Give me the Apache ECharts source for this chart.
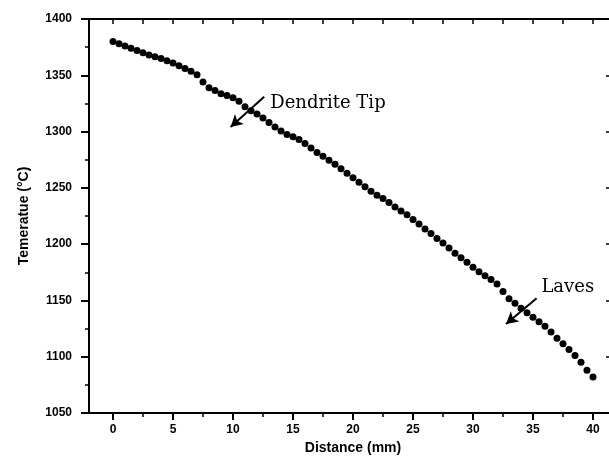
<!DOCTYPE html>
<html>
<head>
<meta charset="utf-8">
<script src="https://cdn.jsdelivr.net/npm/echarts@6/dist/echarts.min.js"></script>
<style>
  html, body { margin: 0; padding: 0; background: #fff; }
  #main { width: 609px; height: 466px; }
</style>
</head>
<body>
<div id="main"></div>
<script>
// distance along the sample (mm)
var distance = [
  0, 0.5, 1, 1.5, 2, 2.5, 3, 3.5, 4, 4.5,
  5, 5.5, 6, 6.5, 7, 7.5, 8, 8.5, 9, 9.5,
  10, 10.5, 11, 11.5, 12, 12.5, 13, 13.5, 14, 14.5,
  15, 15.5, 16, 16.5, 17, 17.5, 18, 18.5, 19, 19.5,
  20, 20.5, 21, 21.5, 22, 22.5, 23, 23.5, 24, 24.5,
  25, 25.5, 26, 26.5, 27, 27.5, 28, 28.5, 29, 29.5,
  30, 30.5, 31, 31.5, 32, 32.5, 33, 33.5, 34, 34.5,
  35, 35.5, 36, 36.5, 37, 37.5, 38, 38.5, 39, 39.5,
  40
];
// temperature
var temperature = [
  1380, 1378, 1376, 1374, 1372, 1370, 1368, 1366.5, 1365, 1363,
  1361, 1358.5, 1356, 1353.5, 1350.5, 1344, 1339, 1336.5, 1333.5, 1332,
  1330, 1327, 1322, 1318.5, 1315.5, 1312, 1308, 1304, 1300.5, 1297.5,
  1295.5, 1293, 1289.5, 1285.5, 1281.5, 1278, 1274.5, 1271, 1267, 1263,
  1259, 1255, 1251, 1247, 1243.5, 1240.5, 1237, 1233, 1229.5, 1226,
  1222, 1218, 1213.5, 1209.5, 1205, 1201, 1196.5, 1192, 1188, 1184,
  1179.5, 1175.5, 1172, 1168.5, 1164.5, 1158, 1151.5, 1147.5, 1143, 1139,
  1135, 1131, 1127, 1122, 1116.5, 1111.5, 1106.5, 1101, 1095, 1088,
  1082
];
var xMajor = [0, 5, 10, 15, 20, 25, 30, 35, 40];
var xMinor = [2.5, 7.5, 12.5, 17.5, 22.5, 27.5, 32.5, 37.5];
var xTopTicks = [0, 2.5, 5, 7.5, 10, 12.5, 15, 17.5, 20, 22.5, 25, 27.5, 30, 32.5, 35, 37.5, 40];

var points = distance.map(function (d, i) { return [d, temperature[i]]; });

var myChart = echarts.init(document.getElementById('main'));
var font = 'Liberation Sans, Arial, sans-serif';
var axisLine = { show: true, onZero: false, lineStyle: { color: '#000', width: 2 } };
var xRange = { min: -2, max: 42 };

var option = {
  animation: false,
  backgroundColor: '#fff',
  grid: { left: 89, top: 19, right: -8, bottom: 53, outerBoundsMode: 'none' },
  xAxis: [
    {
      type: 'value', position: 'bottom', min: xRange.min, max: xRange.max,
      name: 'Distance (mm)', nameLocation: 'middle', nameGap: 24,
      nameTextStyle: { fontFamily: font, fontWeight: 'bold', fontSize: 14, color: '#000' },
      axisLine: axisLine,
      axisTick: { show: true, inside: false, length: 7, customValues: xMajor, lineStyle: { color: '#000', width: 2 } },
      axisLabel: { show: true, customValues: xMajor, margin: 11, fontFamily: font, fontWeight: 'bold', fontSize: 12, color: '#000' },
      splitLine: { show: false }
    },
    {
      type: 'value', position: 'bottom', min: xRange.min, max: xRange.max,
      axisLine: { show: false, onZero: false },
      axisTick: { show: true, inside: false, length: 4, customValues: xMinor, lineStyle: { color: '#000', width: 1.5 } },
      axisLabel: { show: false },
      splitLine: { show: false }
    },
    {
      type: 'value', position: 'top', min: xRange.min, max: xRange.max,
      axisLine: axisLine,
      axisTick: { show: true, inside: true, length: 5, customValues: xTopTicks, lineStyle: { color: '#000', width: 1.5 } },
      axisLabel: { show: false },
      splitLine: { show: false }
    }
  ],
  yAxis: [
    {
      type: 'value', position: 'left', min: 1050, max: 1400, interval: 50,
      name: 'Temeratue (°C)', nameLocation: 'middle', nameGap: 58,
      nameTextStyle: { fontFamily: font, fontWeight: 'bold', fontSize: 14, color: '#000' },
      axisLine: axisLine,
      axisTick: { show: true, inside: false, length: 8, lineStyle: { color: '#000', width: 2 } },
      minorTick: { show: true, splitNumber: 2, length: 4, lineStyle: { color: '#000', width: 1.5 } },
      axisLabel: { margin: 17, fontFamily: font, fontWeight: 'bold', fontSize: 12, color: '#000',
        formatter: function (v) { return String(v); } },
      splitLine: { show: false }
    },
    {
      type: 'value', position: 'right', min: 1050, max: 1400, interval: 50,
      axisLine: axisLine,
      axisTick: { show: true, inside: true, length: 11, lineStyle: { color: '#000', width: 1.5 } },
      axisLabel: { show: false },
      splitLine: { show: false }
    }
  ],
  series: [
    {
      type: 'scatter',
      xAxisIndex: 0,
      yAxisIndex: 0,
      symbol: 'circle',
      symbolSize: 7,
      itemStyle: { color: '#000', opacity: 1 },
      data: points,
      markLine: {
        silent: true,
        symbol: ['none', 'arrow'],
        symbolSize: [10, 12],
        lineStyle: { color: '#000', width: 2, type: 'solid' },
        label: { show: false },
        data: [
          [{ coord: [12.6, 1331] }, { coord: [9.8, 1304] }],
          [{ coord: [35.3, 1152] }, { coord: [32.75, 1129] }]
        ]
      },
      markPoint: {
        silent: true,
        symbol: 'circle',
        symbolSize: 0,
        itemStyle: { color: 'rgba(0,0,0,0)' },
        label: {
          show: true, position: 'right', distance: 0,
          fontFamily: 'DejaVu Serif, serif', fontSize: 18, color: '#000',
          formatter: function (p) { return p.name; }
        },
        data: [
          { name: 'Dendrite Tip', coord: [13.1, 1325.5] },
          { name: 'Laves', coord: [35.7, 1162] }
        ]
      }
    }
  ]
};
myChart.setOption(option);
</script>
</body>
</html>
